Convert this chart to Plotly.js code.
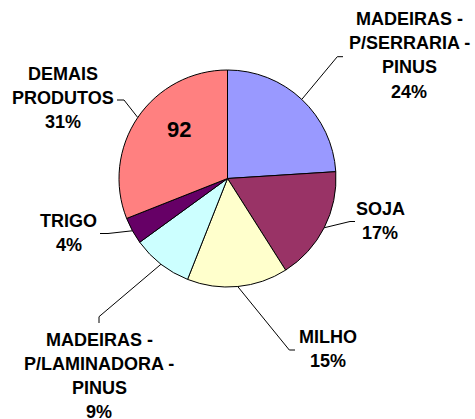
<!DOCTYPE html>
<html>
<head>
<meta charset="utf-8">
<script src="https://cdn.plot.ly/plotly-3.0.1.min.js"></script>
<style>html,body{margin:0;padding:0;background:#fff;}#chart{width:475px;height:419px;}</style>
</head>
<body>
<div id="chart"></div>
<script>
// ---- data ----
const categories = ['MADEIRAS - P/SERRARIA - PINUS', 'SOJA', 'MILHO', 'MADEIRAS - P/LAMINADORA - PINUS', 'TRIGO', 'DEMAIS PRODUTOS'];
const labelLines = [['MADEIRAS -', 'P/SERRARIA -', 'PINUS'], ['SOJA'], ['MILHO'], ['MADEIRAS -', 'P/LAMINADORA -', 'PINUS'], ['TRIGO'], ['DEMAIS', 'PRODUTOS']];
const values = [24, 17, 15, 9, 4, 31];
const sliceNote = '92';

// ---- style / layout ----
const colors = ['#9999FF', '#993366', '#FFFFCC', '#CCFFFF', '#660066', '#FF8080'];
const W = 475, H = 419;
const pieC = {x: 227.5, y: 178.5, r: 108.5};
const labelPos = [
  {cx: 409, y0: 19}, {cx: 380, y0: 208.5}, {cx: 328, y0: 337},
  {cx: 99, y0: 339.5}, {cx: 68.7, y0: 221}, {cx: 62.5, y0: 73.5}
];
const lineGap = 24.2;
const leader = [
  [[337.3, 56.7], [343, 56.7]],
  [[350, 221.5], [355, 221.5]],
  [[289.3, 350], [295, 350]],
  [[99, 316.7], [99, 323]],
  [[108, 233.5], [100, 233.5]],
  [[124, 100], [117, 100]]
];
const font = {family: 'Liberation Sans, Arial, sans-serif', size: 18, color: '#000', weight: 'bold'};

const px = x => x / W, py = y => 1 - y / H;
const total = values.reduce((a, b) => a + b, 0);

const annotations = [];
const shapes = [];
let cum = 0;
values.forEach((v, i) => {
  const mid = (cum + v / 2) / total * 2 * Math.PI;
  cum += v;
  const ax = pieC.x + pieC.r * Math.sin(mid);
  const ay = pieC.y - pieC.r * Math.cos(mid);
  const lines = labelLines[i].concat([Math.round(v / total * 100) + '%']);
  lines.forEach((t, k) => {
    annotations.push({
      xref: 'paper', yref: 'paper', x: px(labelPos[i].cx), y: py(labelPos[i].y0 + k * lineGap),
      xanchor: 'center', yanchor: 'middle', text: t, showarrow: false, font: font
    });
  });
  const [e, f] = leader[i];
  shapes.push({
    type: 'path', xref: 'paper', yref: 'paper',
    path: `M ${px(ax)},${py(ay)} L ${px(e[0])},${py(e[1])} L ${px(f[0])},${py(f[1])}`,
    line: {color: '#000', width: 1}
  });
});
annotations.push({
  xref: 'paper', yref: 'paper', x: px(179.2), y: py(129.2), xanchor: 'center', yanchor: 'middle',
  text: sliceNote, showarrow: false,
  font: {family: 'Liberation Sans, Arial, sans-serif', size: 22, color: '#000', weight: 'bold'}
});

const trace = {
  type: 'pie', labels: categories, values: values, sort: false, direction: 'clockwise', rotation: 0,
  marker: {colors: colors, line: {color: '#000', width: 1}},
  textinfo: 'none', hoverinfo: 'label+percent', showlegend: false,
  domain: {x: [px(pieC.x - pieC.r), px(pieC.x + pieC.r)], y: [py(pieC.y + pieC.r), py(pieC.y - pieC.r)]}
};

Plotly.newPlot('chart', [trace], {
  width: W, height: H, margin: {l: 0, r: 0, t: 0, b: 0},
  paper_bgcolor: '#fff', showlegend: false,
  annotations: annotations, shapes: shapes
}, {displayModeBar: false, staticPlot: true});
</script>
</body>
</html>
